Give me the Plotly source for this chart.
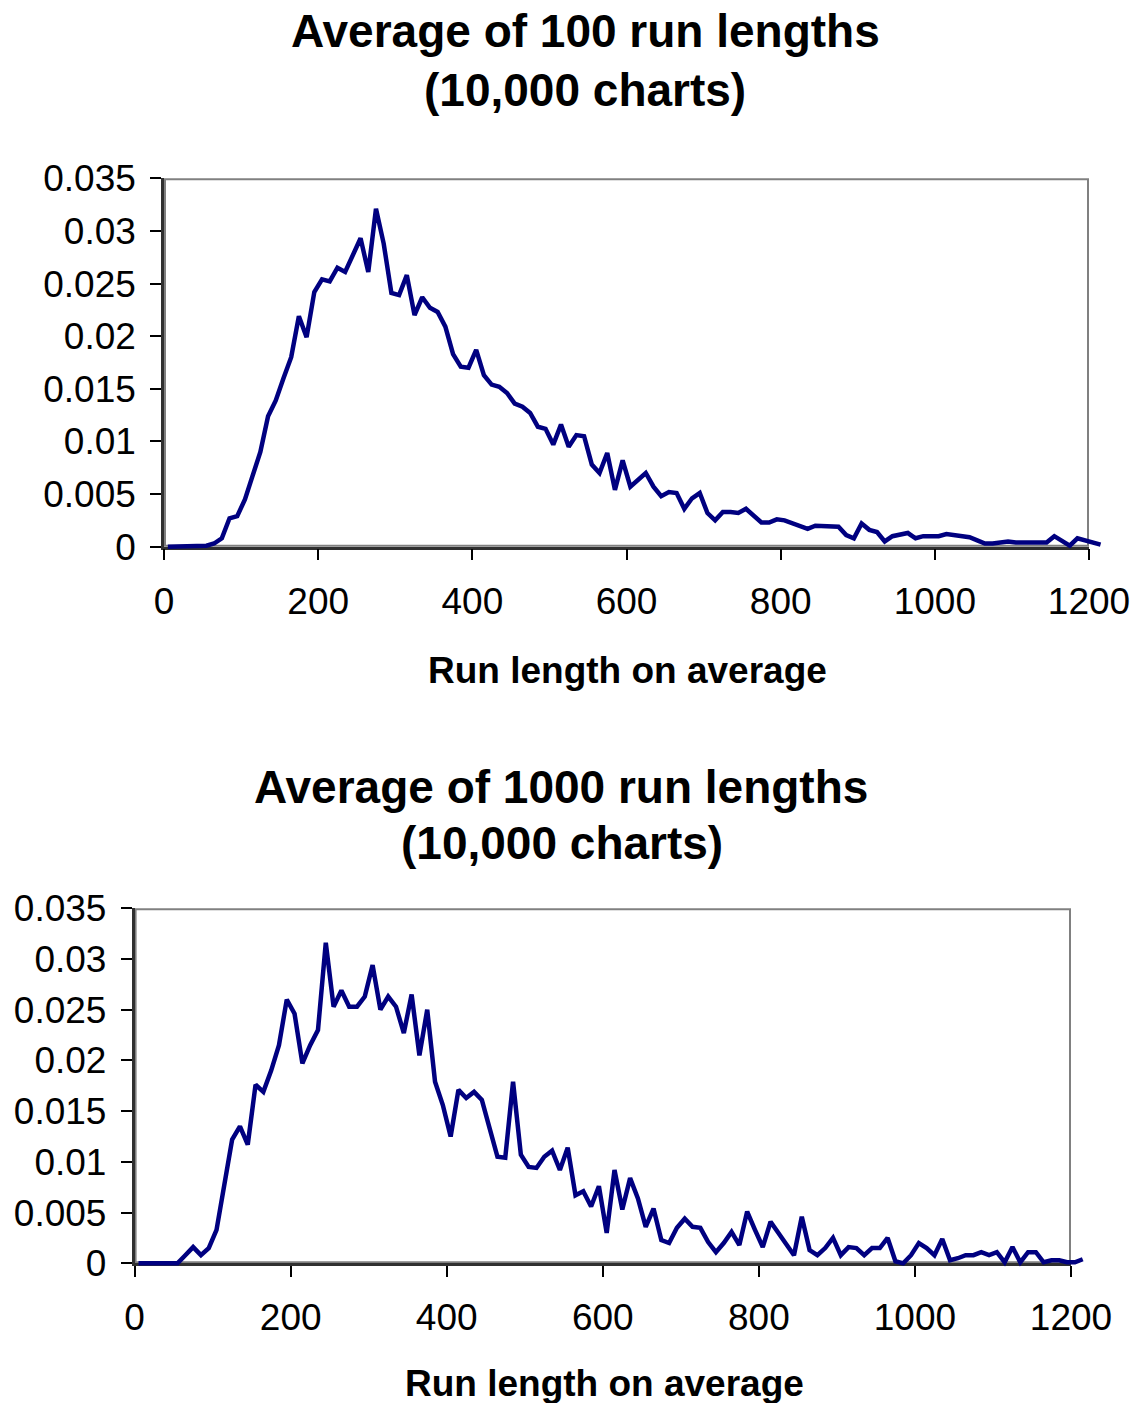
import plotly.graph_objects as go

# ---------------- data ----------------
run_length = list(range(5, 1225, 10))  # bin midpoints 5 ... 1215

freq_avg100 = [
    0, 0, 0, 0, 0, 0.0001, 0.0003, 0.0008, 0.0027, 0.0029,
    0.0045, 0.0066, 0.0090, 0.0124, 0.0139, 0.0160, 0.0180, 0.0219, 0.0199, 0.0242,
    0.0254, 0.0252, 0.0265, 0.0261, 0.0276, 0.0293, 0.0261, 0.0321, 0.0288, 0.0241,
    0.0239, 0.0258, 0.0220, 0.0237, 0.0227, 0.0223, 0.0209, 0.0183, 0.0171, 0.0170,
    0.0187, 0.0163, 0.0154, 0.0152, 0.0146, 0.0136, 0.0133, 0.0127, 0.0114, 0.0112,
    0.0097, 0.0116, 0.0095, 0.0106, 0.0105, 0.0078, 0.0070, 0.0089, 0.0054, 0.0082,
    0.0057, 0.0063, 0.0070, 0.0057, 0.0048, 0.0052, 0.0051, 0.0036, 0.0046, 0.0051,
    0.0032, 0.0025, 0.0033, 0.0033, 0.0032, 0.0036, 0.0030, 0.0023, 0.0023, 0.0026,
    0.0025, 0.0022, 0.0019, 0.0017, 0.0020, 0.0020, 0.0020, 0.0019, 0.0011, 0.0008,
    0.0022, 0.0016, 0.0014, 0.0005, 0.0010, 0.0011, 0.0013, 0.0008, 0.0010, 0.0010,
    0.0010, 0.0012, 0.0011, 0.0010, 0.0009, 0.0006, 0.0003, 0.0003, 0.0004, 0.0005,
    0.0004, 0.0004, 0.0004, 0.0003, 0.0004, 0.0010, 0.0005, 0.0001, 0.0008, 0.0006,
    0.0005, 0.0002,
]

freq_avg1000 = [
    0, 0, 0, 0, 0, 0, 0.0008, 0.0016, 0.0008, 0.0015,
    0.0033, 0.0080, 0.0122, 0.0135, 0.0117, 0.0176, 0.0169, 0.0190, 0.0215, 0.0260,
    0.0246, 0.0197, 0.0215, 0.0230, 0.0316, 0.0253, 0.0269, 0.0253, 0.0253, 0.0263,
    0.0294, 0.0250, 0.0263, 0.0253, 0.0227, 0.0265, 0.0205, 0.0250, 0.0179, 0.0156,
    0.0125, 0.0171, 0.0163, 0.0169, 0.0161, 0.0133, 0.0105, 0.0104, 0.0179, 0.0107,
    0.0095, 0.0094, 0.0105, 0.0111, 0.0092, 0.0114, 0.0067, 0.0071, 0.0056, 0.0076,
    0.0030, 0.0092, 0.0053, 0.0084, 0.0064, 0.0036, 0.0054, 0.0023, 0.0020, 0.0035,
    0.0044, 0.0036, 0.0035, 0.0021, 0.0011, 0.0020, 0.0031, 0.0018, 0.0051, 0.0033,
    0.0016, 0.0041, 0.0030, 0.0020, 0.0008, 0.0046, 0.0013, 0.0008, 0.0015, 0.0025,
    0.0008, 0.0016, 0.0015, 0.0008, 0.0015, 0.0015, 0.0025, 0.0002, 0.0000, 0.0008,
    0.0020, 0.0015, 0.0008, 0.0024, 0.0003, 0.0005, 0.0008, 0.0008, 0.0011, 0.0008,
    0.0011, 0.0001, 0.0016, 0.0001, 0.0011, 0.0011, 0.0001, 0.0003, 0.0003, 0.0001,
    0.0001, 0.0004,
]

x_ticks = [0, 200, 400, 600, 800, 1000, 1200]
y_ticks = [0, 0.005, 0.01, 0.015, 0.02, 0.025, 0.03, 0.035]
y_tick_text = ["0", "0.005", "0.01", "0.015", "0.02", "0.025", "0.03", "0.035"]

titles = [["Average of 100 run lengths", "(10,000 charts)"],
          ["Average of 1000 run lengths", "(10,000 charts)"]]
x_title = "Run length on average"

# ---------------- geometry ----------------
W, H = 1142, 1403
FONT = "Arial, 'Liberation Sans', sans-serif"
LINE = "#000080"

# pixel positions of the frame (x: 0 -> 1200, y: 0 -> 0.035)
panels = [
    dict(px0=164.0, px1=1089.0, py0=546.7, py1=178.3,
         t1=(585, 31), t2=(585, 90), xt=(627, 670)),
    dict(px0=134.6, px1=1071.0, py0=1263.3, py1=908.3,
         t1=(561, 787), t2=(562, 843), xt=(604, 1383)),
]
XR = (0, 1200)
YR = (0, 0.035)
XD = (-10, 1230)      # data axes extend a bit beyond the frame
YD = (-0.003, 0.037)


def lin(v, v0, v1, p0, p1):
    return p0 + (v - v0) / (v1 - v0) * (p1 - p0)


fig = go.Figure()
layout = dict(
    width=W, height=H, margin=dict(l=0, r=0, t=0, b=0, autoexpand=False),
    paper_bgcolor="white", plot_bgcolor="rgba(0,0,0,0)",
    showlegend=False, font=dict(family=FONT, color="black"),
)
shapes = []
annotations = []

series = [freq_avg100, freq_avg1000]
for i, p in enumerate(panels):
    ax_f = 2 * i + 1      # frame axes id
    ax_d = 2 * i + 2      # data axes id
    xf = "x" if ax_f == 1 else f"x{ax_f}"
    yf = "y" if ax_f == 1 else f"y{ax_f}"
    xd = f"x{ax_d}"
    yd = f"y{ax_d}"

    # frame axes
    layout["xaxis" if ax_f == 1 else f"xaxis{ax_f}"] = dict(
        domain=[p["px0"] / W, p["px1"] / W], range=list(XR), anchor=yf,
        tickmode="array", tickvals=x_ticks, ticks="outside", ticklen=11,
        tickwidth=1.5, tickcolor="black", tickfont=dict(size=37, family=FONT),
        showgrid=False, zeroline=False, showline=True, linecolor="#303030",
        linewidth=2.5, ticklabelstandoff=9, fixedrange=True, automargin=False,
    )
    layout["yaxis" if ax_f == 1 else f"yaxis{ax_f}"] = dict(
        domain=[1 - p["py0"] / H, 1 - p["py1"] / H], range=list(YR), anchor=xf,
        tickmode="array", tickvals=y_ticks, ticktext=y_tick_text,
        ticks="outside", ticklen=11, tickwidth=1.5, tickcolor="black",
        tickfont=dict(size=37, family=FONT),
        showgrid=False, zeroline=False, showline=True, linecolor="#303030",
        linewidth=2.5, ticklabelstandoff=7, fixedrange=True, automargin=False,
    )
    # data axes (same scale, wider extent so the line is not clipped at the frame)
    dx0 = lin(XD[0], XR[0], XR[1], p["px0"], p["px1"])
    dx1 = lin(XD[1], XR[0], XR[1], p["px0"], p["px1"])
    dy0 = lin(YD[0], YR[0], YR[1], p["py0"], p["py1"])
    dy1 = lin(YD[1], YR[0], YR[1], p["py0"], p["py1"])
    layout[f"xaxis{ax_d}"] = dict(domain=[dx0 / W, dx1 / W], range=list(XD),
                                  anchor=yd, visible=False, fixedrange=True,
                                  automargin=False)
    layout[f"yaxis{ax_d}"] = dict(domain=[1 - dy0 / H, 1 - dy1 / H], range=list(YD),
                                  anchor=xd, visible=False, fixedrange=True,
                                  automargin=False)

    fig.add_trace(go.Scatter(
        x=run_length, y=series[i], xaxis=xd, yaxis=yd, mode="lines",
        line=dict(color=LINE, width=4.5), hoverinfo="skip",
    ))

    shapes.append(dict(type="rect", xref=xf, yref=yf, x0=XR[0], x1=XR[1],
                       y0=YR[0], y1=YR[1], line=dict(color="#808080", width=4),
                       layer="below"))

    for (tx, ty), txt in zip([p["t1"], p["t2"]], titles[i]):
        annotations.append(dict(text=f"<b>{txt}</b>", xref="paper", yref="paper",
                                x=tx / W, y=1 - ty / H, xanchor="center",
                                yanchor="middle", showarrow=False,
                                font=dict(size=46, family=FONT, color="black")))
    annotations.append(dict(text=f"<b>{x_title}</b>", xref="paper", yref="paper",
                            x=p["xt"][0] / W, y=1 - p["xt"][1] / H,
                            xanchor="center", yanchor="middle", showarrow=False,
                            font=dict(size=37, family=FONT, color="black")))

layout["shapes"] = shapes
layout["annotations"] = annotations
fig.update_layout(**layout)

fig.write_html("out.html")
